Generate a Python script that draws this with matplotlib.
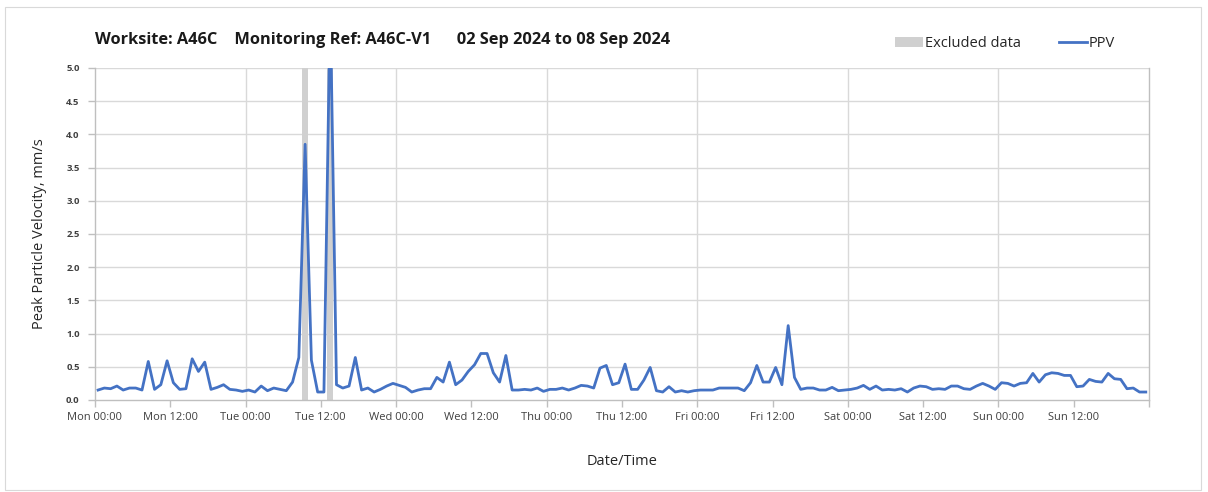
import matplotlib
matplotlib.use("Agg")
import matplotlib.pyplot as plt
from matplotlib.patches import Patch, Rectangle
from matplotlib.lines import Line2D
import numpy as np

plt.rcParams['font.family'] = ['Open Sans', 'DejaVu Sans']

# Hourly peak particle velocity (mm/s), Mon 00:00 .. Sun 23:00
ppv = [
    0.15, 0.18, 0.17, 0.21, 0.15, 0.18, 0.18, 0.15, 0.58, 0.16, 0.23, 0.59,
    0.26, 0.16, 0.17, 0.62, 0.43, 0.57, 0.16, 0.19, 0.23, 0.16, 0.15, 0.13,
    0.15, 0.12, 0.21, 0.14, 0.18, 0.16, 0.14, 0.27, 0.64, 3.85, 0.60, 0.12,
    0.12, 6.00, 0.23, 0.18, 0.21, 0.64, 0.15, 0.18, 0.12, 0.16, 0.21, 0.25,
    0.22, 0.19, 0.12, 0.15, 0.17, 0.17, 0.34, 0.27, 0.57, 0.23, 0.30, 0.43,
    0.53, 0.70, 0.70, 0.41, 0.27, 0.67, 0.15, 0.15, 0.16, 0.15, 0.18, 0.13,
    0.16, 0.16, 0.18, 0.15, 0.18, 0.22, 0.21, 0.18, 0.48, 0.52, 0.23, 0.26,
    0.54, 0.16, 0.16, 0.30, 0.49, 0.14, 0.12, 0.20, 0.12, 0.14, 0.12, 0.14,
    0.15, 0.15, 0.15, 0.18, 0.18, 0.18, 0.18, 0.14, 0.26, 0.52, 0.27, 0.27,
    0.49, 0.23, 1.12, 0.34, 0.16, 0.18, 0.18, 0.15, 0.15, 0.19, 0.14, 0.15,
    0.16, 0.18, 0.22, 0.16, 0.21, 0.15, 0.16, 0.15, 0.17, 0.12, 0.18, 0.21,
    0.20, 0.16, 0.17, 0.16, 0.21, 0.21, 0.17, 0.16, 0.21, 0.25, 0.21, 0.16,
    0.26, 0.25, 0.21, 0.25, 0.26, 0.40, 0.27, 0.38, 0.41, 0.40, 0.37, 0.37,
    0.20, 0.21, 0.31, 0.28, 0.27, 0.40, 0.32, 0.31, 0.17, 0.18, 0.12, 0.12,
]
# Excluded periods, hours from Mon 00:00 (start, end)
excluded = [(33, 34), (37, 38)]

tick_labels = ["Mon 00:00", "Mon 12:00", "Tue 00:00", "Tue 12:00", "Wed 00:00",
               "Wed 12:00", "Thu 00:00", "Thu 12:00", "Fri 00:00", "Fri 12:00",
               "Sat 00:00", "Sat 12:00", "Sun 00:00", "Sun 12:00"]
y_ticks = [0.0, 0.5, 1.0, 1.5, 2.0, 2.5, 3.0, 3.5, 4.0, 4.5, 5.0]

title = "Worksite: A46C    Monitoring Ref: A46C-V1      02 Sep 2024 to 08 Sep 2024"

hours = np.arange(len(ppv)) + 0.5

fig = plt.figure(figsize=(12.08, 4.92), dpi=100)
fig.patches.append(Rectangle((0.004, 0.004), 0.99, 0.982, transform=fig.transFigure,
                             fill=False, edgecolor="#d9d9d9", linewidth=0.8))
ax = fig.add_axes([0.0786, 0.187, 0.8725, 0.675])

for s, e in excluded:
    ax.axvspan(s, e, color="#d0d0d0", linewidth=0, zorder=1)

ax.plot(hours, ppv, color="#4472C4", linewidth=2.0, zorder=3, clip_on=True)

ax.set_xlim(0, 168)
ax.set_ylim(0, 5.0)
ax.set_yticks(y_ticks)
ax.set_yticklabels([f"{v:.1f}" for v in y_ticks], fontsize=6.8, color="#404040",
                   fontweight="bold")
ax.set_xticks(np.arange(0, 168, 12))
ax.set_xticklabels(tick_labels, fontsize=8, color="#404040")
ax.set_xticks([168], minor=True)

ax.grid(False)
for v in y_ticks[1:]:
    ax.axhline(v, color="#d9d9d9", linewidth=1.0, zorder=0)
for h in range(24, 168, 24):
    ax.axvline(h, color="#d9d9d9", linewidth=1.0, zorder=0)

for side in ["left", "right", "bottom"]:
    ax.spines[side].set_color("#bfbfbf")
    ax.spines[side].set_linewidth(1.0)
ax.spines["top"].set_visible(False)
ax.tick_params(axis="both", which="both", color="#bfbfbf", length=5, width=1.0)
ax.tick_params(axis="x", pad=4)
ax.tick_params(axis="y", pad=6)

ax.set_xlabel("Date/Time", fontsize=10.5, color="#262626", labelpad=22)
ax.set_ylabel("Peak Particle Velocity, mm/s", fontsize=10.5, color="#262626", labelpad=14)

fig.text(0.0786, 0.918, title, fontsize=11.8, fontweight="bold", color="#1a1a1a",
         va="center", ha="left")

handles = [Patch(facecolor="#d0d0d0", edgecolor="none", label="Excluded data"),
           Line2D([0], [0], color="#4472C4", linewidth=2.0, label="PPV")]
fig.legend(handles=handles, loc="center", bbox_to_anchor=(0.832, 0.912), ncol=2,
           frameon=False, fontsize=10.5, handlelength=1.9, handletextpad=0.15,
           columnspacing=2.6, labelcolor="#262626")

fig.savefig("out.png", dpi=100, facecolor="white")
